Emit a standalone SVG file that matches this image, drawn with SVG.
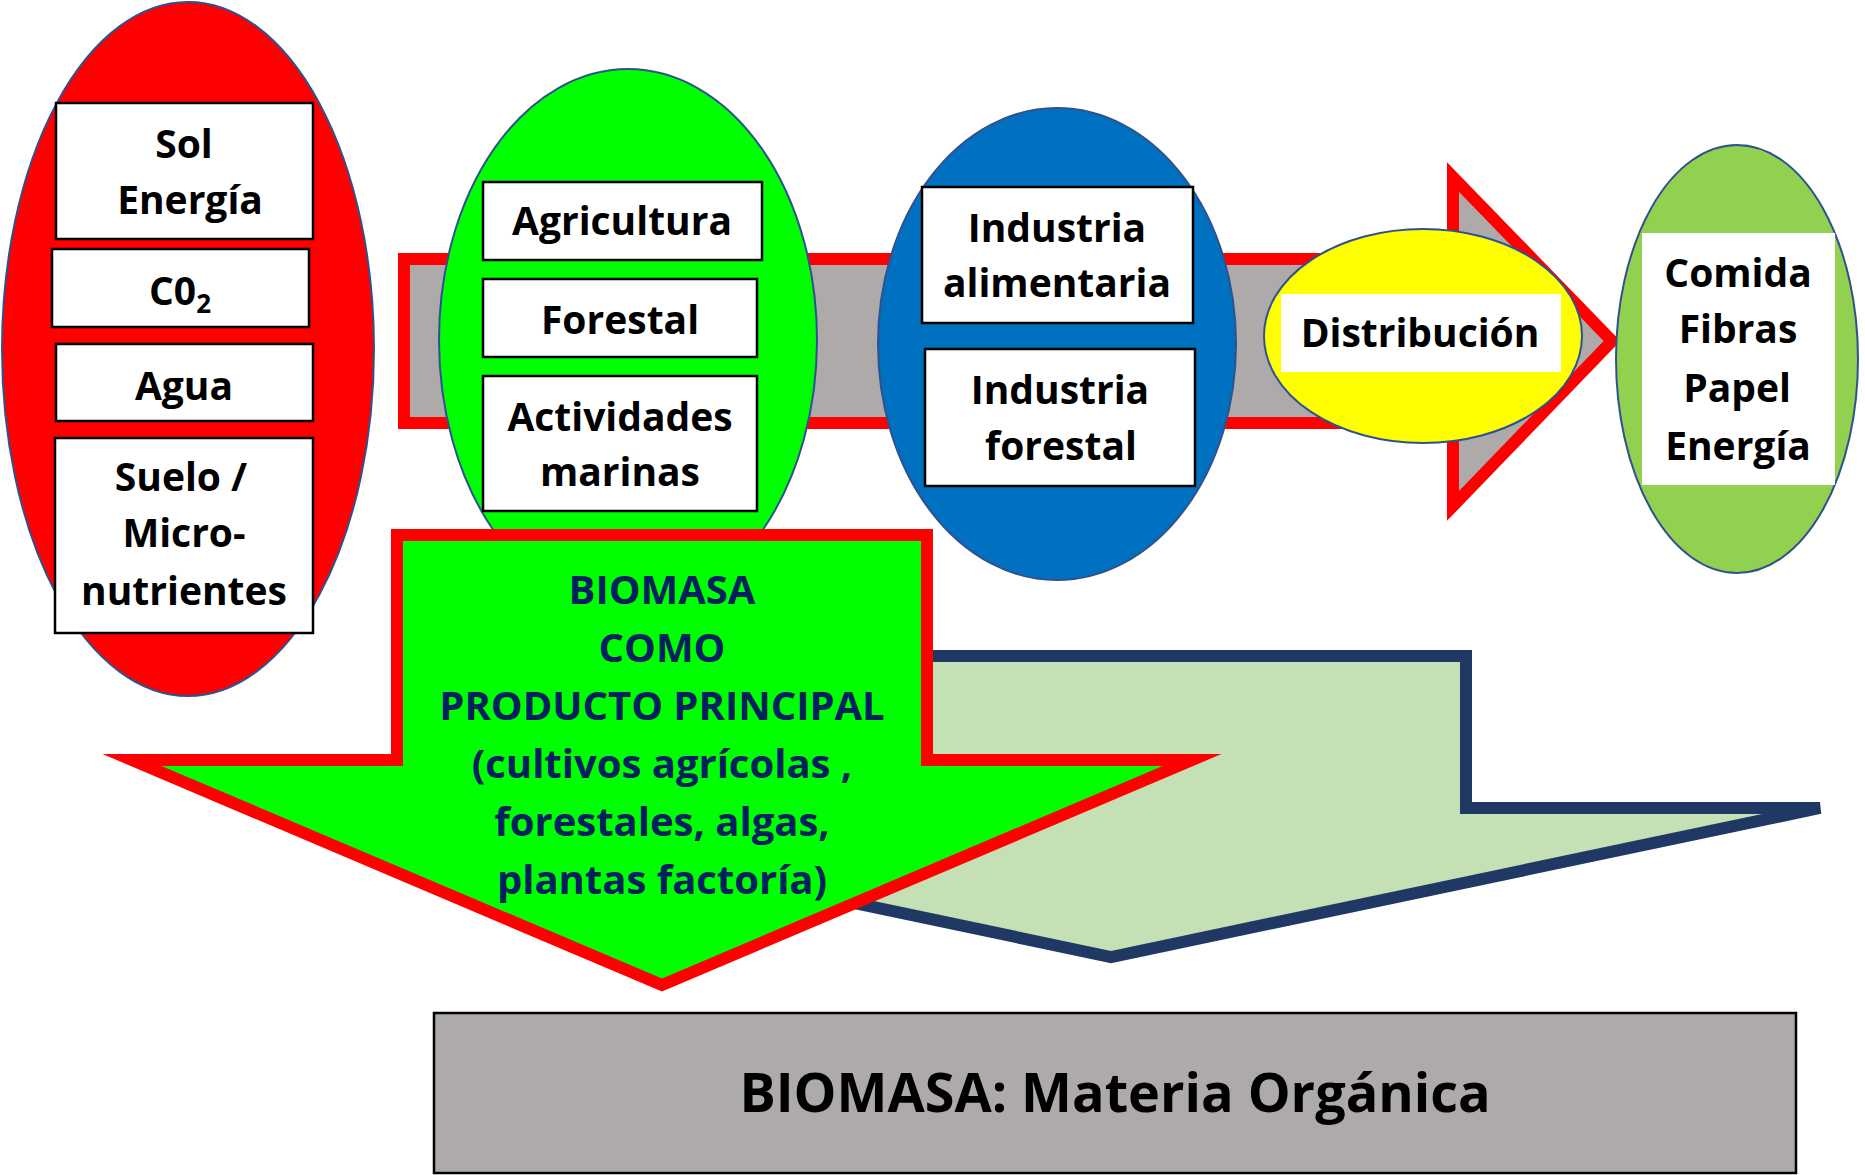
<svg xmlns="http://www.w3.org/2000/svg" width="1865" height="1175" viewBox="0 0 1865 1175">
<style>
  .ell { stroke: #2F528F; stroke-width: 2; }
  .box { fill: #FFFFFF; stroke: #000000; stroke-width: 2.5; }
  .pad { fill: #FFFFFF; stroke: none; }
  .t { font-family: "Open Sans", "Liberation Sans", sans-serif; font-weight: bold; font-size: 39px; fill: #000000; text-anchor: middle; }
  .ta { font-family: "Open Sans", "Liberation Sans", sans-serif; font-weight: bold; font-size: 40px; fill: #002060; text-anchor: middle; }
  .tb { font-family: "Open Sans", "Liberation Sans", sans-serif; font-weight: bold; font-size: 54px; fill: #000000; text-anchor: middle; }
</style>
<rect x="0" y="0" width="1865" height="1175" fill="#FFFFFF"/>

<g id="connectors">
  <path id="flow-arrow" d="M404,259 L1453,259 L1453,177 L1612,341 L1453,506 L1453,423 L404,423 Z" fill="#AEAAAA" stroke="#FF0000" stroke-width="12" stroke-linejoin="miter" stroke-miterlimit="10"/>
  <path id="biomass-secondary-arrow" d="M756,656 L1466,656 L1466,808 L1820,808 L1111,957 L402,808 L756,808 Z" fill="#C5E0B4" stroke="#203864" stroke-width="12" stroke-linejoin="miter" stroke-miterlimit="4"/>
</g>

<g id="inputs">
  <ellipse class="ell" cx="188" cy="349" rx="186" ry="347" fill="#FF0000"/>
  <rect class="box" x="56" y="103" width="257" height="136"/>
  <text class="t" x="184" y="158">Sol</text>
  <text class="t" x="190" y="214">Energía</text>
  <rect class="box" x="52" y="249" width="257" height="78"/>
  <text class="t" x="180" y="305">C0<tspan font-size="26" dy="8">2</tspan></text>
  <rect class="box" x="56" y="344" width="257" height="77"/>
  <text class="t" x="184" y="400">Agua</text>
  <rect class="box" x="55" y="438" width="258" height="195"/>
  <text class="t" x="181" y="491">Suelo /</text>
  <text class="t" x="184" y="547">Micro-</text>
  <text class="t" x="184" y="605">nutrientes</text>
</g>

<g id="production">
  <ellipse class="ell" cx="628" cy="340" rx="189" ry="271" fill="#00FF00"/>
  <rect class="box" x="483" y="182" width="279" height="78"/>
  <text class="t" x="622" y="235">Agricultura</text>
  <rect class="box" x="483" y="279" width="274" height="78"/>
  <text class="t" x="620" y="334">Forestal</text>
  <rect class="box" x="483" y="376" width="274" height="135"/>
  <text class="t" x="620" y="431">Actividades</text>
  <text class="t" x="620" y="486">marinas</text>
</g>

<g id="industry">
  <ellipse class="ell" cx="1057" cy="344" rx="179" ry="236" fill="#0070C0"/>
  <rect class="box" x="922" y="187" width="271" height="136"/>
  <text class="t" x="1057" y="242">Industria</text>
  <text class="t" x="1057" y="297">alimentaria</text>
  <rect class="box" x="925" y="349" width="270" height="137"/>
  <text class="t" x="1060" y="404">Industria</text>
  <text class="t" x="1061" y="460">forestal</text>
</g>

<g id="distribution">
  <ellipse class="ell" cx="1423" cy="336" rx="159" ry="107" fill="#FFFF00"/>
  <rect class="pad" x="1281" y="294" width="280" height="78"/>
  <text class="t" x="1420" y="347">Distribución</text>
</g>

<g id="products">
  <ellipse class="ell" cx="1737" cy="359" rx="121" ry="214" fill="#92D050"/>
  <rect class="pad" x="1642" y="233" width="193" height="252"/>
  <text class="t" x="1738" y="287">Comida</text>
  <text class="t" x="1738" y="343">Fibras</text>
  <text class="t" x="1737" y="402">Papel</text>
  <text class="t" x="1738" y="460">Energía</text>
</g>

<g id="biomass-main">
  <path d="M397,535 L927,535 L927,760 L1192,760 L662,985 L132,760 L397,760 Z" fill="#00FF00" stroke="#FF0000" stroke-width="12" stroke-linejoin="miter" stroke-miterlimit="10"/>
  <text class="ta" x="662" y="604">BIOMASA</text>
  <text class="ta" x="662" y="662">COMO</text>
  <text class="ta" x="662" y="720">PRODUCTO PRINCIPAL</text>
  <text class="ta" x="662" y="778">(cultivos agrícolas ,</text>
  <text class="ta" x="662" y="836">forestales, algas,</text>
  <text class="ta" x="662" y="894">plantas factoría)</text>
</g>

<g id="biomass-definition">
  <rect x="434" y="1013" width="1362" height="160" fill="#AEAAAA" stroke="#000000" stroke-width="2.5"/>
  <text class="tb" x="1115" y="1112">BIOMASA: Materia Orgánica</text>
</g>
</svg>
